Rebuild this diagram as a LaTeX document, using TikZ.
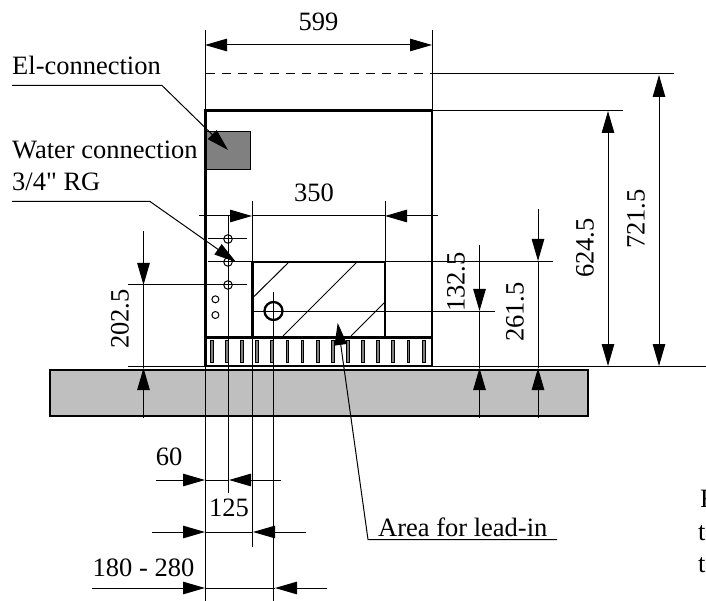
\documentclass[tikz,border=0pt]{standalone}
\usepackage{fontspec}
\setmainfont{Liberation Serif}[Ligatures=TeXOff]
\usetikzlibrary{arrows.meta}
\tikzset{
lbl/.style={inner sep=0pt, font=\fontsize{26.5}{30}\selectfont},
wall/.style={line width=2.3pt},
dimline/.style={line width=1pt},
head/.style={line width=1pt, -{Triangle[length=22pt,width=12.5pt]}},
heads/.style={line width=1pt, {Triangle[length=22pt,width=12.5pt]}-{Triangle[length=22pt,width=12.5pt]}},
port/.style={circle, draw, line width=1pt, inner sep=0pt, fill=none},
slot/.style={draw, line width=0.8pt, fill=gray, inner sep=0pt, minimum width=2.8pt, minimum height=22pt}
}
\begin{document}
\begin{tikzpicture}[x=1pt,y=-1pt]
\useasboundingbox (0,0) rectangle (706,601);
\draw[wall, fill={rgb,255:red,191;green,191;blue,191}] (50,370) rectangle (588,416);
\draw[line width=1pt, fill={rgb,255:red,128;green,128;blue,128}] (205.5,131.5) rectangle (250.5,169.5);
\draw[wall] (205.5,110.5) rectangle (432,366);
\draw[wall] (205.5,337.5) -- (432,337.5);
\draw[wall] (252.5,262) rectangle (385,337.5);
\foreach \i in {0,...,14}
\node[slot] (slot\i) at (211.7+15.13*\i,351.7){};
\draw[line width=1pt] (252.5,298) -- (288,263);
\draw[line width=1pt] (283,336) -- (356,263);
\draw[line width=1pt] (351,336) -- (384,303);
\coordinate (extl0) at (205.5,30);
\coordinate (extl1) at (205.5,601);
\coordinate (extr0) at (432,30);
\coordinate (extr1) at (432,110);
\coordinate (extk0) at (252.5,201);
\coordinate (extk1) at (252.5,547);
\coordinate (extm0) at (385,201);
\coordinate (extm1) at (385,262);
\coordinate (extp0) at (228,216);
\coordinate (extp1) at (228,493);
\coordinate (extc0) at (273.5,292);
\coordinate (extc1) at (273.5,601);
\draw[dimline] (extl0) -- (extl1);
\draw[dimline] (extr0) -- (extr1);
\draw[dimline] (extk0) -- (extk1);
\draw[dimline] (extm0) -- (extm1);
\draw[dimline] (extp0) -- (extp1);
\draw[dimline] (extc0) -- (extc1);
\coordinate (dash0) at (206,74);
\coordinate (dash1) at (432,74);
\coordinate (top1) at (674,74);
\coordinate (roof0) at (432,110.5);
\coordinate (roof1) at (623,110.5);
\coordinate (gnd0) at (128,366);
\coordinate (gnd1) at (706,366);
\draw[dimline, dash pattern=on 9pt off 7pt] (dash0) -- (dash1);
\draw[dimline] (dash1) -- (top1);
\draw[dimline] (roof0) -- (roof1);
\draw[dimline] (gnd0) -- (gnd1);
\coordinate (hla0) at (208,239);
\coordinate (hla1) at (247,239);
\coordinate (hlb0) at (208,262);
\coordinate (hlb1) at (553,262);
\coordinate (hlc0) at (128,285);
\coordinate (hlc1) at (247,285);
\coordinate (hld0) at (252.5,311);
\coordinate (hld1) at (495,311);
\draw[dimline] (hla0) -- (hla1);
\draw[dimline] (hlb0) -- (hlb1);
\draw[dimline] (hlc0) -- (hlc1);
\draw[dimline] (hld0) -- (hld1);
\node[port, minimum size=8.5pt] (water0) at (228,239){};
\node[port, minimum size=8.5pt] (water1) at (228,262){};
\node[port, minimum size=8.5pt] (water2) at (228,285){};
\node[port, minimum size=7pt] (drain0) at (215.4,299.3){};
\node[port, minimum size=7pt] (drain1) at (215.4,315){};
\node[circle, draw, line width=2.3pt, inner sep=0pt, minimum size=18pt] (leadin) at (273.5,311){};
\coordinate (w0) at (205,45);
\coordinate (w1) at (432,45);
\draw[heads] (w0) -- (w1);
\node[lbl] (n599) at (318.5,21.5) {599};
\coordinate (h0) at (199,216);
\coordinate (h1) at (438,216);
\coordinate (h0tip) at (252,216);
\coordinate (h1tip) at (385,216);
\draw[dimline] (h0tip) -- (h1tip);
\draw[head] (h0) -- (h0tip);
\draw[head] (h1) -- (h1tip);
\node[lbl] (n350) at (314,193) {350};
\coordinate (a0) at (608,111);
\coordinate (a1) at (608,366);
\draw[heads] (a0) -- (a1);
\node[lbl, rotate=90] (n624) at (585,248) {624.5};
\coordinate (b0) at (659,75);
\coordinate (b1) at (659,366);
\draw[heads] (b0) -- (b1);
\node[lbl, rotate=90] (n721) at (636,219) {721.5};
\coordinate (c0) at (143.5,231);
\coordinate (c0tip) at (143.5,285);
\coordinate (c1tip) at (143.5,368);
\coordinate (c1) at (143.5,418);
\draw[dimline] (c0tip) -- (c1tip);
\draw[head] (c0) -- (c0tip);
\draw[head] (c1) -- (c1tip);
\node[lbl, rotate=90] (n202) at (120,319) {202.5};
\coordinate (d0) at (479.5,245);
\coordinate (d0tip) at (479.5,311);
\coordinate (d1tip) at (479.5,368);
\coordinate (d1) at (479.5,418);
\draw[dimline] (d0tip) -- (d1tip);
\draw[head] (d0) -- (d0tip);
\draw[head] (d1) -- (d1tip);
\node[lbl, rotate=90] (n132) at (456,282) {132.5};
\coordinate (e0) at (538,209);
\coordinate (e0tip) at (538,261);
\coordinate (e1tip) at (538,368);
\coordinate (e1) at (538,418);
\draw[dimline] (e0tip) -- (e1tip);
\draw[head] (e0) -- (e0tip);
\draw[head] (e1) -- (e1tip);
\node[lbl, rotate=90] (n261) at (515,312) {261.5};
\coordinate (f0) at (156,480);
\coordinate (f0tip) at (205,480);
\coordinate (f1tip) at (229,480);
\coordinate (f1) at (281,480);
\draw[dimline] (f0tip) -- (f1tip);
\draw[head] (f0) -- (f0tip);
\draw[head] (f1) -- (f1tip);
\node[lbl] (n60) at (169,457) {60};
\coordinate (g0) at (152,532);
\coordinate (g0tip) at (205,532);
\coordinate (g1tip) at (253,532);
\coordinate (g1) at (306,532);
\draw[dimline] (g0tip) -- (g1tip);
\draw[head] (g0) -- (g0tip);
\draw[head] (g1) -- (g1tip);
\node[lbl] (n125) at (229,508) {125};
\coordinate (k0) at (92,588);
\coordinate (k0tip) at (205,588);
\coordinate (k1tip) at (275,588);
\coordinate (k1) at (327,588);
\draw[dimline] (k0tip) -- (k1tip);
\draw[head] (k0) -- (k0tip);
\draw[head] (k1) -- (k1tip);
\node[lbl] (n180) at (143.5,568) {180 - 280};
\node[lbl, anchor=west] (elec) at (12,65) {El-connection};
\coordinate (elec0) at (12,85.5);
\coordinate (elec1) at (162,85.5);
\coordinate (elec2) at (228,150);
\draw[head] (elec0) -- (elec1) -- (elec2);
\node[lbl, anchor=west] (water) at (12,150) {Water connection};
\node[lbl, anchor=west] (thread) at (12,182) {3/4" RG};
\coordinate (wat0) at (12,201.5);
\coordinate (wat1) at (150,201.5);
\coordinate (wat2) at (236,262);
\draw[head] (wat0) -- (wat1) -- (wat2);
\node[lbl, anchor=west] (area) at (378,527) {Area for lead-in};
\coordinate (are0) at (557,539.5);
\coordinate (are1) at (368,539.5);
\coordinate (are2) at (337.7,323);
\draw[head] (are0) -- (are1) -- (are2);
\node[lbl, anchor=west] (cut0) at (700,499) {F};
\node[lbl, anchor=west] (cut1) at (698,533) {t};
\node[lbl, anchor=west] (cut2) at (698,565) {t};
\end{tikzpicture}
\end{document}
